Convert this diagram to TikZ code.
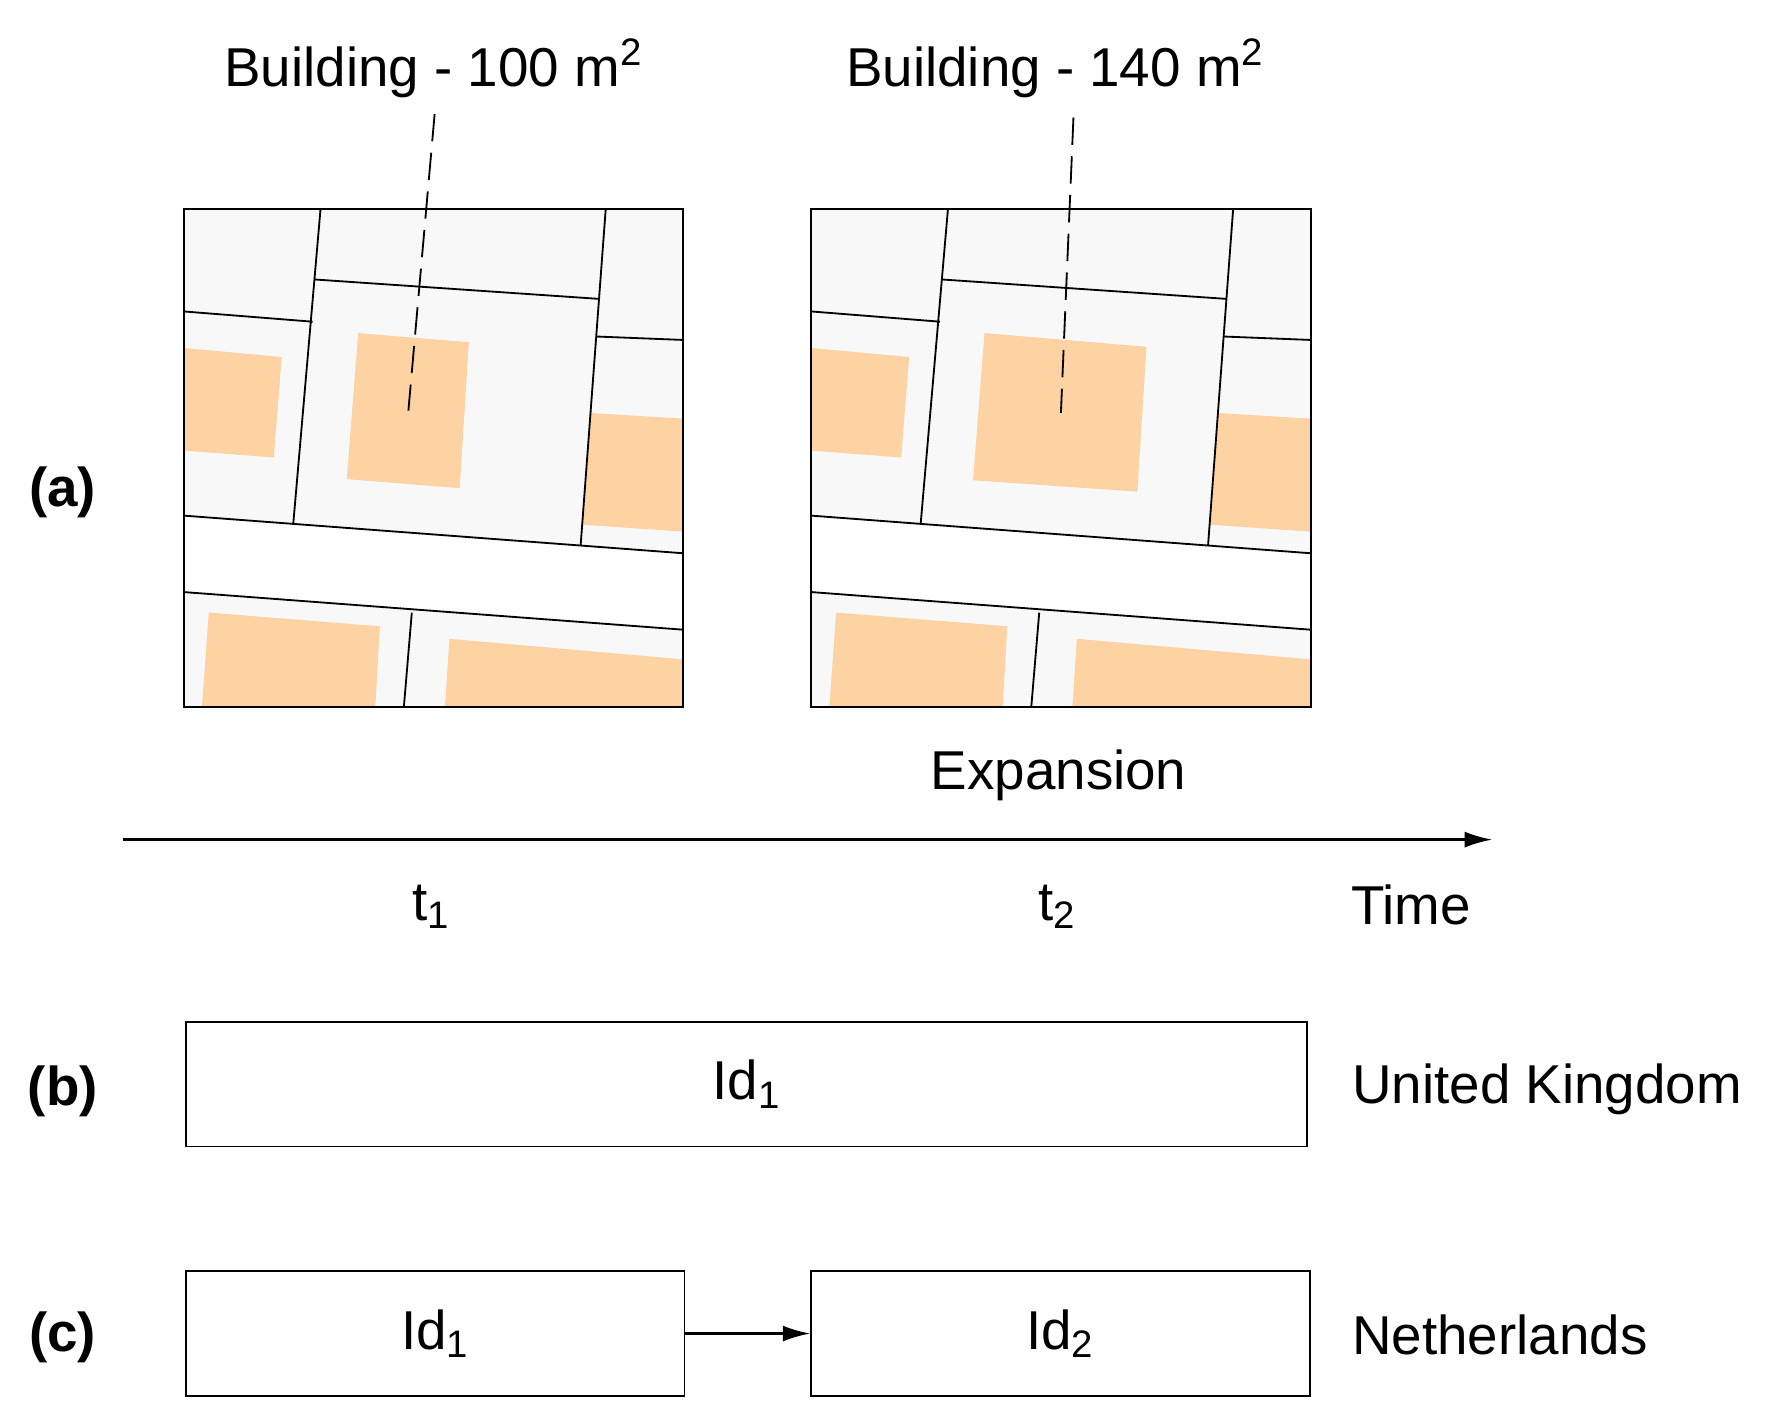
\documentclass[tikz,border=0pt]{standalone}
\usepackage{fontspec}
\setmainfont{Liberation Sans}
\usetikzlibrary{arrows.meta}
\definecolor{parcel}{HTML}{F8F8F8}
\definecolor{bld}{HTML}{FDD3A3}
\begin{document}
\begin{tikzpicture}[x=0.5pt,y=-0.5pt,
  ln/.style={line width=0.8pt},
  lbl/.style={font=\fontsize{24}{28}\selectfont, inner sep=0},
  box/.style={draw, line width=0.8pt, minimum width=#1*0.5pt, minimum height=54.5pt, inner sep=0}]
\useasboundingbox (0,0) rectangle (1563,1247);
\foreach \o/\cx/\name in {0/0/m1, 550/1/m2}{
\begin{scope}[xshift=\o*0.5pt]
  \fill[parcel] (161,183) rectangle (599,620);
  \fill[white] (161,452) -- (599,485) -- (599,552) -- (161,519) -- cycle;
  \fill[bld] (161,305) -- (247,313) -- (240,401) -- (161,395) -- cycle;
  \fill[bld] (517,362) -- (599,367) -- (599,466) -- (511,460) -- cycle;
  \fill[bld] (183,537) -- (333,549) -- (329,620) -- (177,620) -- cycle;
  \fill[bld] (394,560) -- (599,578) -- (599,620) -- (390,620) -- cycle;
  \ifnum\cx=0
    \fill[bld] (314,292) -- (411,300) -- (403,428) -- (304,420) -- cycle;
  \else
    \fill[bld] (313,292) -- (455,304) -- (447,431) -- (303,421) -- cycle;
  \fi
  \draw[ln] (281,183) -- (257,460);
  \draw[ln] (531,183) -- (509,478);
  \draw[ln] (276,245) -- (525,262);
  \draw[ln] (161,273) -- (274,282);
  \draw[ln] (523,295) -- (599,298);
  \draw[ln] (161,452) -- (599,485);
  \draw[ln] (161,519) -- (599,552);
  \draw[ln] (361,537) -- (354,620);
  \draw[ln] (161,183) rectangle (599,620);
\end{scope}}
\node[lbl] (b1) at (380,60) {Building - 100 m\textsuperscript{2}};
\node[lbl] (b2) at (925,60) {Building - 140 m\textsuperscript{2}};
\coordinate (d1) at (358,360);
\coordinate (d2) at (930,362);
\draw[ln, dash pattern=on 12pt off 5pt] (381,100) -- (d1);
\draw[ln, dash pattern=on 12pt off 5pt] (941,103) -- (d2);
\node[lbl] (exp) at (928,680) {Expansion};
\coordinate (a0) at (108,736);
\coordinate (a1) at (1308,736);
\draw[line width=1pt,-{Latex[length=12pt,width=7pt]}] (a0) -- (a1);
\node[lbl] (t1) at (378,795) {t\textsubscript{1}};
\node[lbl] (t2) at (927,795) {t\textsubscript{2}};
\node[lbl] (time) at (1237,793) {Time};
\node[lbl, font=\fontsize{24}{28}\selectfont\bfseries] (la) at (55,432) {(a)};
\node[lbl, font=\fontsize{24}{28}\selectfont\bfseries] (lb) at (55,957) {(b)};
\node[lbl, font=\fontsize{24}{28}\selectfont\bfseries] (lc) at (55,1172) {(c)};
\node[box=983, lbl] (id1b) at (654.5,950.5) {Id\textsubscript{1}};
\node[lbl, anchor=west] (uk) at (1185,955) {United Kingdom};
\node[box=437, lbl] (id1c) at (381.5,1169) {Id\textsubscript{1}};
\node[box=437, lbl] (id2c) at (929.5,1169) {Id\textsubscript{2}};
\draw[line width=1pt,-{Latex[length=12pt,width=7pt]}] (id1c) -- (id2c);
\node[lbl, anchor=west] (nl) at (1185,1170) {Netherlands};
\end{tikzpicture}
\end{document}
